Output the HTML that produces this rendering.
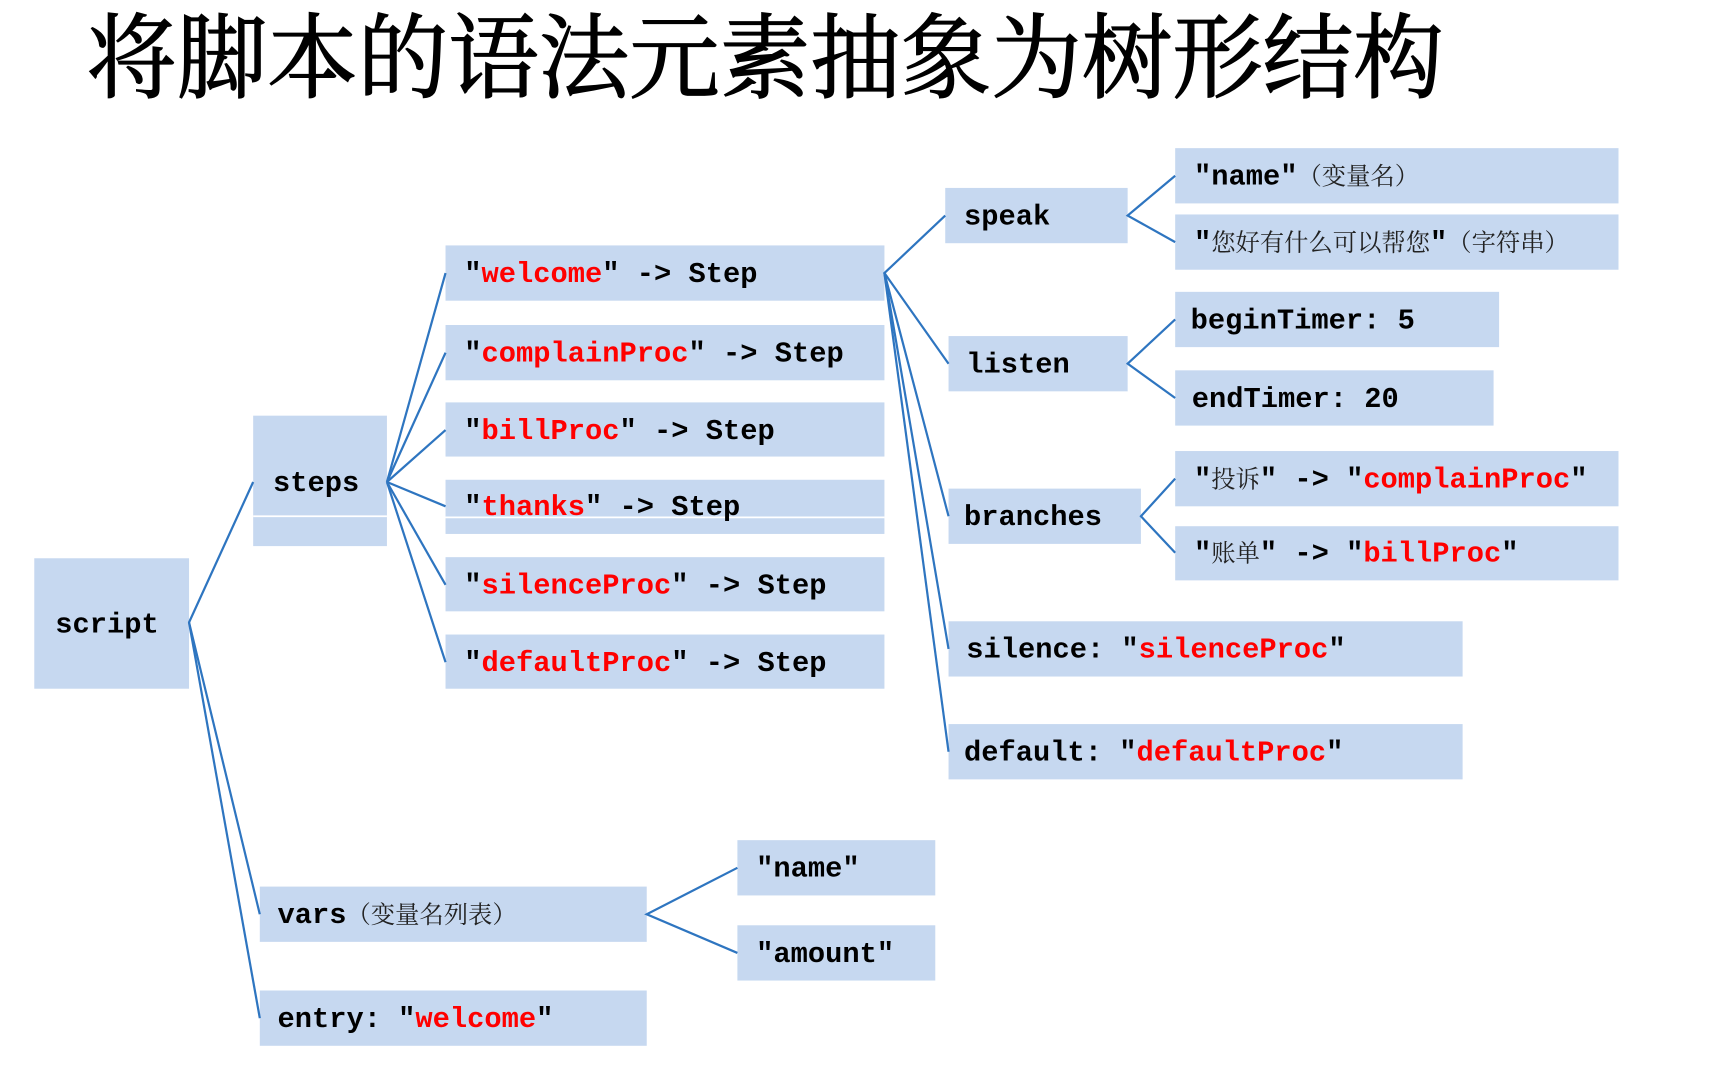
<!DOCTYPE html>
<html><head><meta charset="utf-8"><style>
html,body{margin:0;padding:0;background:#fff;width:1718px;height:1090px;overflow:hidden}
svg{display:block}
.t{font-family:"Liberation Mono","Noto Sans CJK SC",monospace;font-weight:bold;font-size:26px;fill:#000}
.r{fill:#ff0000}
.c{font-family:"Noto Serif CJK SC",serif;font-weight:normal;font-size:22px;fill:#222}
</style></head><body>
<svg width="1718" height="1090" viewBox="0 0 1554 986" preserveAspectRatio="none">
<text x="78" y="82" font-family="'Noto Serif CJK SC','Noto Sans CJK SC',serif" font-size="84" textLength="1228" lengthAdjust="spacingAndGlyphs" fill="#000" stroke="#000" stroke-width="1.2">将脚本的语法元素抽象为树形结构</text>
<g fill="#c6d8f0">
<rect x="31" y="505" width="140" height="118"/>
<rect x="229" y="376" width="121" height="118"/>
<rect x="403" y="222" width="397" height="50"/>
<rect x="403" y="294" width="397" height="50"/>
<rect x="403" y="364" width="397" height="49"/>
<rect x="403" y="434" width="397" height="49"/>
<rect x="403" y="504" width="397" height="49"/>
<rect x="403" y="574" width="397" height="49"/>
<rect x="855" y="170" width="165" height="50"/>
<rect x="858" y="304" width="162" height="50"/>
<rect x="858" y="442" width="174" height="50"/>
<rect x="858" y="562" width="465" height="50"/>
<rect x="858" y="655" width="465" height="50"/>
<rect x="1063" y="134" width="401" height="50"/>
<rect x="1063" y="194" width="401" height="50"/>
<rect x="1063" y="264" width="293" height="50"/>
<rect x="1063" y="335" width="288" height="50"/>
<rect x="1063" y="408" width="401" height="50"/>
<rect x="1063" y="476" width="401" height="49"/>
<rect x="235" y="802" width="350" height="50"/>
<rect x="235" y="896" width="350" height="50"/>
<rect x="667" y="760" width="179" height="50"/>
<rect x="667" y="837" width="179" height="50"/>
</g>
<g stroke="#fff" stroke-width="1.5"><line x1="229" y1="467" x2="350" y2="467"/><line x1="403" y1="468" x2="800" y2="468"/></g>
<g stroke="#2e75c0" stroke-width="2" fill="none">
<polyline points="229,436 171,563 235,827"/>
<line x1="171" y1="563" x2="235" y2="921"/>
<line x1="350" y1="436" x2="403" y2="247"/>
<line x1="350" y1="436" x2="403" y2="319"/>
<line x1="350" y1="436" x2="403" y2="389"/>
<line x1="350" y1="436" x2="403" y2="458"/>
<line x1="350" y1="436" x2="403" y2="529"/>
<line x1="350" y1="436" x2="403" y2="599"/>
<polyline points="855,195 800,247 858,329"/>
<line x1="800" y1="247" x2="858" y2="467"/>
<line x1="800" y1="247" x2="858" y2="587"/>
<line x1="800" y1="247" x2="858" y2="680"/>
<polyline points="1063,159 1020,195 1063,219"/>
<polyline points="1063,289 1020,329 1063,360"/>
<polyline points="1063,433 1032,467 1063,500"/>
<polyline points="667,785 585,827 667,862"/>
</g>
<text class="t" x="50" y="572">script</text>
<text class="t" x="247" y="444">steps</text>
<text class="t" x="420" y="255">"<tspan class="r">welcome</tspan>" -&gt; Step</text>
<text class="t" x="420" y="327">"<tspan class="r">complainProc</tspan>" -&gt; Step</text>
<text class="t" x="420" y="397">"<tspan class="r">billProc</tspan>" -&gt; Step</text>
<text class="t" x="420" y="466">"<tspan class="r">thanks</tspan>" -&gt; Step</text>
<text class="t" x="420" y="537">"<tspan class="r">silenceProc</tspan>" -&gt; Step</text>
<text class="t" x="420" y="607">"<tspan class="r">defaultProc</tspan>" -&gt; Step</text>
<text class="t" x="872" y="203">speak</text>
<text class="t" x="874" y="337">listen</text>
<text class="t" x="872" y="475">branches</text>
<text class="t" x="874" y="595">silence: "<tspan class="r">silenceProc</tspan>"</text>
<text class="t" x="872" y="688">default: "<tspan class="r">defaultProc</tspan>"</text>
<text class="t" x="1080" y="167">"name"<tspan class="c">（变量名）</tspan></text>
<text class="t" x="1080" y="227">"<tspan class="c">您好有什么可以帮您</tspan>"<tspan class="c">（字符串）</tspan></text>
<text class="t" x="1077" y="297">beginTimer: 5</text>
<text class="t" x="1078" y="368">endTimer: 20</text>
<text class="t" x="1080" y="441">"<tspan class="c">投诉</tspan>" -&gt; "<tspan class="r">complainProc</tspan>"</text>
<text class="t" x="1080" y="508">"<tspan class="c">账单</tspan>" -&gt; "<tspan class="r">billProc</tspan>"</text>
<text class="t" x="251" y="835">vars<tspan class="c">（变量名列表）</tspan></text>
<text class="t" x="251" y="929">entry: "<tspan class="r">welcome</tspan>"</text>
<text class="t" x="684" y="793">"name"</text>
<text class="t" x="684" y="870">"amount"</text>
</svg>
</body></html>
